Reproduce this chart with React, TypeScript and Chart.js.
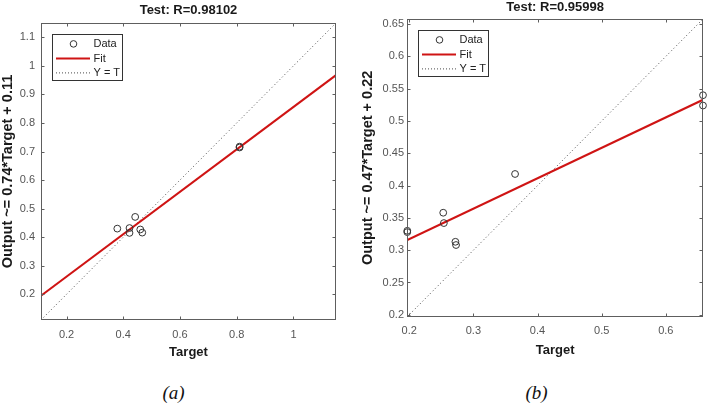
import React, { useEffect, useRef } from "react";
import { Chart, registerables } from "chart.js";

Chart.register(...registerables);

// ---------- Data: panel (a) ----------
const targetA = [0.81, 0.81, 0.379, 0.442, 0.422, 0.422, 0.46, 0.467];
const outputA = [0.717, 0.714, 0.43, 0.471, 0.432, 0.415, 0.427, 0.416];
const rangeA = [0.11, 1.15];
const fitA = [0.743, 0.113]; // slope, intercept
const xTicksA = [0.2, 0.4, 0.6, 0.8, 1];
const yTicksA = [0.2, 0.3, 0.4, 0.5, 0.6, 0.7, 0.8, 0.9, 1, 1.1];
const titleA = "Test: R=0.98102";
const yLabelA = "Output ~= 0.74*Target + 0.11";

// ---------- Data: panel (b) ----------
const targetB = [0.197, 0.197, 0.253, 0.254, 0.272, 0.273, 0.365, 0.658, 0.658];
const outputB = [0.33, 0.328, 0.358, 0.342, 0.313, 0.308, 0.418, 0.54, 0.524];
const rangeB = [0.197, 0.658];
const fitB = [0.471, 0.223];
const xTicksB = [0.2, 0.3, 0.4, 0.5, 0.6];
const yTicksB = [0.2, 0.25, 0.3, 0.35, 0.4, 0.45, 0.5, 0.55, 0.6, 0.65];
const titleB = "Test: R=0.95998";
const yLabelB = "Output ~= 0.47*Target + 0.22";

const xLabel = "Target";
const legendLabels = ["Data", "Fit", "Y = T"];
const captions = ["(a)", "(b)"];

const FONT = "'Liberation Sans', Arial, Helvetica, sans-serif";
const RED = "#cf1414";
const CIRCLE = "#333333";
const DOT = "#4a4a4a";
const AXIS = "#5e5e5e";
const TICKTXT = "#555555";

const CW = 354;
const CH = 372;

type Layout = {
  padRight: number;
  padTop: number;
  yWidth: number;
  xBottom: number;
  yTickPad: number;
  xTickPad: number;
  yTitlePad: number;
  xTitlePad: number;
  titleOffset: number;
};

type PanelProps = {
  targets: number[];
  outputs: number[];
  range: number[];
  fit: number[];
  xTicks: number[];
  yTicks: number[];
  title: string;
  yLabel: string;
  layout: Layout;
};

function Panel(props: PanelProps) {
  const ref = useRef<HTMLCanvasElement | null>(null);
  useEffect(() => {
    const { targets, outputs, range, fit, xTicks, yTicks, title, yLabel, layout } = props;
    const pts = targets.map((t, i) => ({ x: t, y: outputs[i] }));
    const fitLine = range.map((x) => ({ x, y: fit[0] * x + fit[1] }));
    const idLine = range.map((x) => ({ x, y: x }));

    const decor = {
      id: "matlabDecor",
      afterDraw(chart: any) {
        const { ctx, chartArea: a, scales } = chart;
        ctx.save();
        const L = Math.round(a.left) + 0.5;
        const R = Math.round(a.right) - 0.5;
        const T = Math.round(a.top) + 0.5;
        const B = Math.round(a.bottom) - 0.5;
        // box
        ctx.strokeStyle = AXIS;
        ctx.lineWidth = 1;
        ctx.setLineDash([]);
        ctx.strokeRect(L, T, R - L, B - T);
        // inward ticks
        ctx.beginPath();
        xTicks.forEach((v) => {
          const px = Math.round(scales.x.getPixelForValue(v)) + 0.5;
          ctx.moveTo(px, B);
          ctx.lineTo(px, B - 3);
          ctx.moveTo(px, T);
          ctx.lineTo(px, T + 3);
        });
        yTicks.forEach((v) => {
          const py = Math.round(scales.y.getPixelForValue(v)) + 0.5;
          ctx.moveTo(L, py);
          ctx.lineTo(L + 3, py);
          ctx.moveTo(R, py);
          ctx.lineTo(R - 3, py);
        });
        ctx.stroke();

        // title
        ctx.fillStyle = "#1a1a1a";
        ctx.font = `bold 13px ${FONT}`;
        ctx.textAlign = "center";
        ctx.textBaseline = "middle";
        ctx.fillText(title, (a.left + a.right) / 2, a.top - layout.titleOffset);

        // legend
        const bx = Math.round(a.left + 10.5) + 0.5;
        const by = Math.round(a.top + 10.5) + 0.5;
        const bw = 70;
        const bh = 46;
        ctx.fillStyle = "#ffffff";
        ctx.fillRect(bx, by, bw, bh);
        ctx.strokeStyle = "#333333";
        ctx.lineWidth = 1;
        ctx.strokeRect(bx, by, bw, bh);
        const rows = [by + 9.4, by + 24, by + 38.4];
        // Data marker
        ctx.beginPath();
        ctx.arc(bx + 21, rows[0], 3.3, 0, Math.PI * 2);
        ctx.strokeStyle = CIRCLE;
        ctx.stroke();
        // Fit line
        ctx.beginPath();
        ctx.moveTo(bx + 3.5, rows[1]);
        ctx.lineTo(bx + 37.5, rows[1]);
        ctx.strokeStyle = RED;
        ctx.lineWidth = 2;
        ctx.stroke();
        // Y = T
        ctx.beginPath();
        ctx.setLineDash([1, 2]);
        ctx.moveTo(bx + 3.5, rows[2]);
        ctx.lineTo(bx + 39, rows[2]);
        ctx.strokeStyle = DOT;
        ctx.lineWidth = 1;
        ctx.stroke();
        ctx.setLineDash([]);
        ctx.fillStyle = "#222222";
        ctx.font = `11px ${FONT}`;
        ctx.textAlign = "left";
        ctx.textBaseline = "middle";
        legendLabels.forEach((lab, i) => {
          ctx.fillText(lab, bx + 41, rows[i] + 0.5);
        });
        ctx.restore();
      },
    };

    const chart = new Chart(ref.current as HTMLCanvasElement, {
      type: "scatter",
      data: {
        datasets: [
          {
            label: "Y = T",
            data: idLine,
            showLine: true,
            borderColor: DOT,
            borderWidth: 1,
            borderDash: [1, 2.6],
            pointRadius: 0,
            order: 3,
          },
          {
            label: "Fit",
            data: fitLine,
            showLine: true,
            borderColor: RED,
            borderWidth: 2,
            pointRadius: 0,
            order: 2,
          },
          {
            label: "Data",
            data: pts,
            showLine: false,
            pointRadius: 3.4,
            pointBorderWidth: 1,
            pointBorderColor: CIRCLE,
            pointBackgroundColor: "rgba(0,0,0,0)",
            clip: false,
            order: 1,
          } as any,
        ],
      },
      options: {
        responsive: false,
        animation: false,
        events: [],
        layout: {
          padding: { left: 0, top: layout.padTop, right: layout.padRight, bottom: 0 },
        },
        plugins: {
          legend: { display: false },
          tooltip: { enabled: false },
          title: { display: false },
        },
        scales: {
          x: {
            type: "linear",
            min: range[0],
            max: range[1],
            grid: { display: false, drawTicks: false },
            border: { display: false },
            afterBuildTicks: (s: any) => {
              s.ticks = xTicks.map((v) => ({ value: v }));
            },
            afterFit: (s: any) => {
              s.height = layout.xBottom;
            },
            ticks: {
              autoSkip: false,
              maxRotation: 0,
              padding: layout.xTickPad,
              color: TICKTXT,
              font: { family: FONT, size: 11 },
              callback: (v: any) => String(v),
            },
            title: {
              display: true,
              text: xLabel,
              color: "#1a1a1a",
              font: { family: FONT, size: 13, weight: "bold" },
              padding: { top: 0, bottom: layout.xTitlePad },
            },
          },
          y: {
            type: "linear",
            min: range[0],
            max: range[1],
            grid: { display: false, drawTicks: false },
            border: { display: false },
            afterBuildTicks: (s: any) => {
              s.ticks = yTicks.map((v) => ({ value: v }));
            },
            afterFit: (s: any) => {
              s.width = layout.yWidth;
            },
            ticks: {
              autoSkip: false,
              padding: layout.yTickPad,
              color: TICKTXT,
              font: { family: FONT, size: 11 },
              callback: (v: any) => String(v),
            },
            title: {
              display: true,
              text: yLabel,
              color: "#1a1a1a",
              font: { family: FONT, size: 14.5, weight: "bold", lineHeight: 1 },
              padding: { top: layout.yTitlePad, bottom: 0 },
            },
          },
        },
      } as any,
      plugins: [decor],
    });
    return () => chart.destroy();
  }, []);
  return <canvas ref={ref} width={CW} height={CH} style={{ display: "block" }} />;
}

const layoutA: Layout = {
  padRight: 18,
  padTop: 23,
  yWidth: 41,
  xBottom: CH - 320,
  yTickPad: 6,
  xTickPad: 8,
  yTitlePad: 0.3,
  xTitlePad: 12,
  titleOffset: 13,
};

const layoutB: Layout = {
  padRight: 4.7,
  padTop: 19,
  yWidth: 53.3,
  xBottom: CH - 316.7,
  yTickPad: 3.3,
  xTickPad: 8,
  yTitlePad: 6.8,
  xTitlePad: 14.2,
  titleOffset: 11.8,
};

export default function App() {
  const capStyle = (cx: number): React.CSSProperties => ({
    position: "absolute",
    left: cx - 50,
    top: 382,
    width: 100,
    height: 22,
    lineHeight: "22px",
    textAlign: "center",
    fontFamily: "'Liberation Serif', 'DejaVu Serif', serif",
    fontStyle: "italic",
    fontSize: 19,
    color: "#111",
  });
  return (
    <div
      style={{
        position: "absolute",
        left: 0,
        top: 0,
        width: 708,
        height: 404,
        background: "#ffffff",
        overflow: "hidden",
      }}
    >
      <div style={{ position: "absolute", left: 0, top: 0 }}>
        <Panel
          targets={targetA}
          outputs={outputA}
          range={rangeA}
          fit={fitA}
          xTicks={xTicksA}
          yTicks={yTicksA}
          title={titleA}
          yLabel={yLabelA}
          layout={layoutA}
        />
      </div>
      <div style={{ position: "absolute", left: 354, top: 0 }}>
        <Panel
          targets={targetB}
          outputs={outputB}
          range={rangeB}
          fit={fitB}
          xTicks={xTicksB}
          yTicks={yTicksB}
          title={titleB}
          yLabel={yLabelB}
          layout={layoutB}
        />
      </div>
      <div style={capStyle(173.5)}>{captions[0]}</div>
      <div style={capStyle(536.5)}>{captions[1]}</div>
    </div>
  );
}
